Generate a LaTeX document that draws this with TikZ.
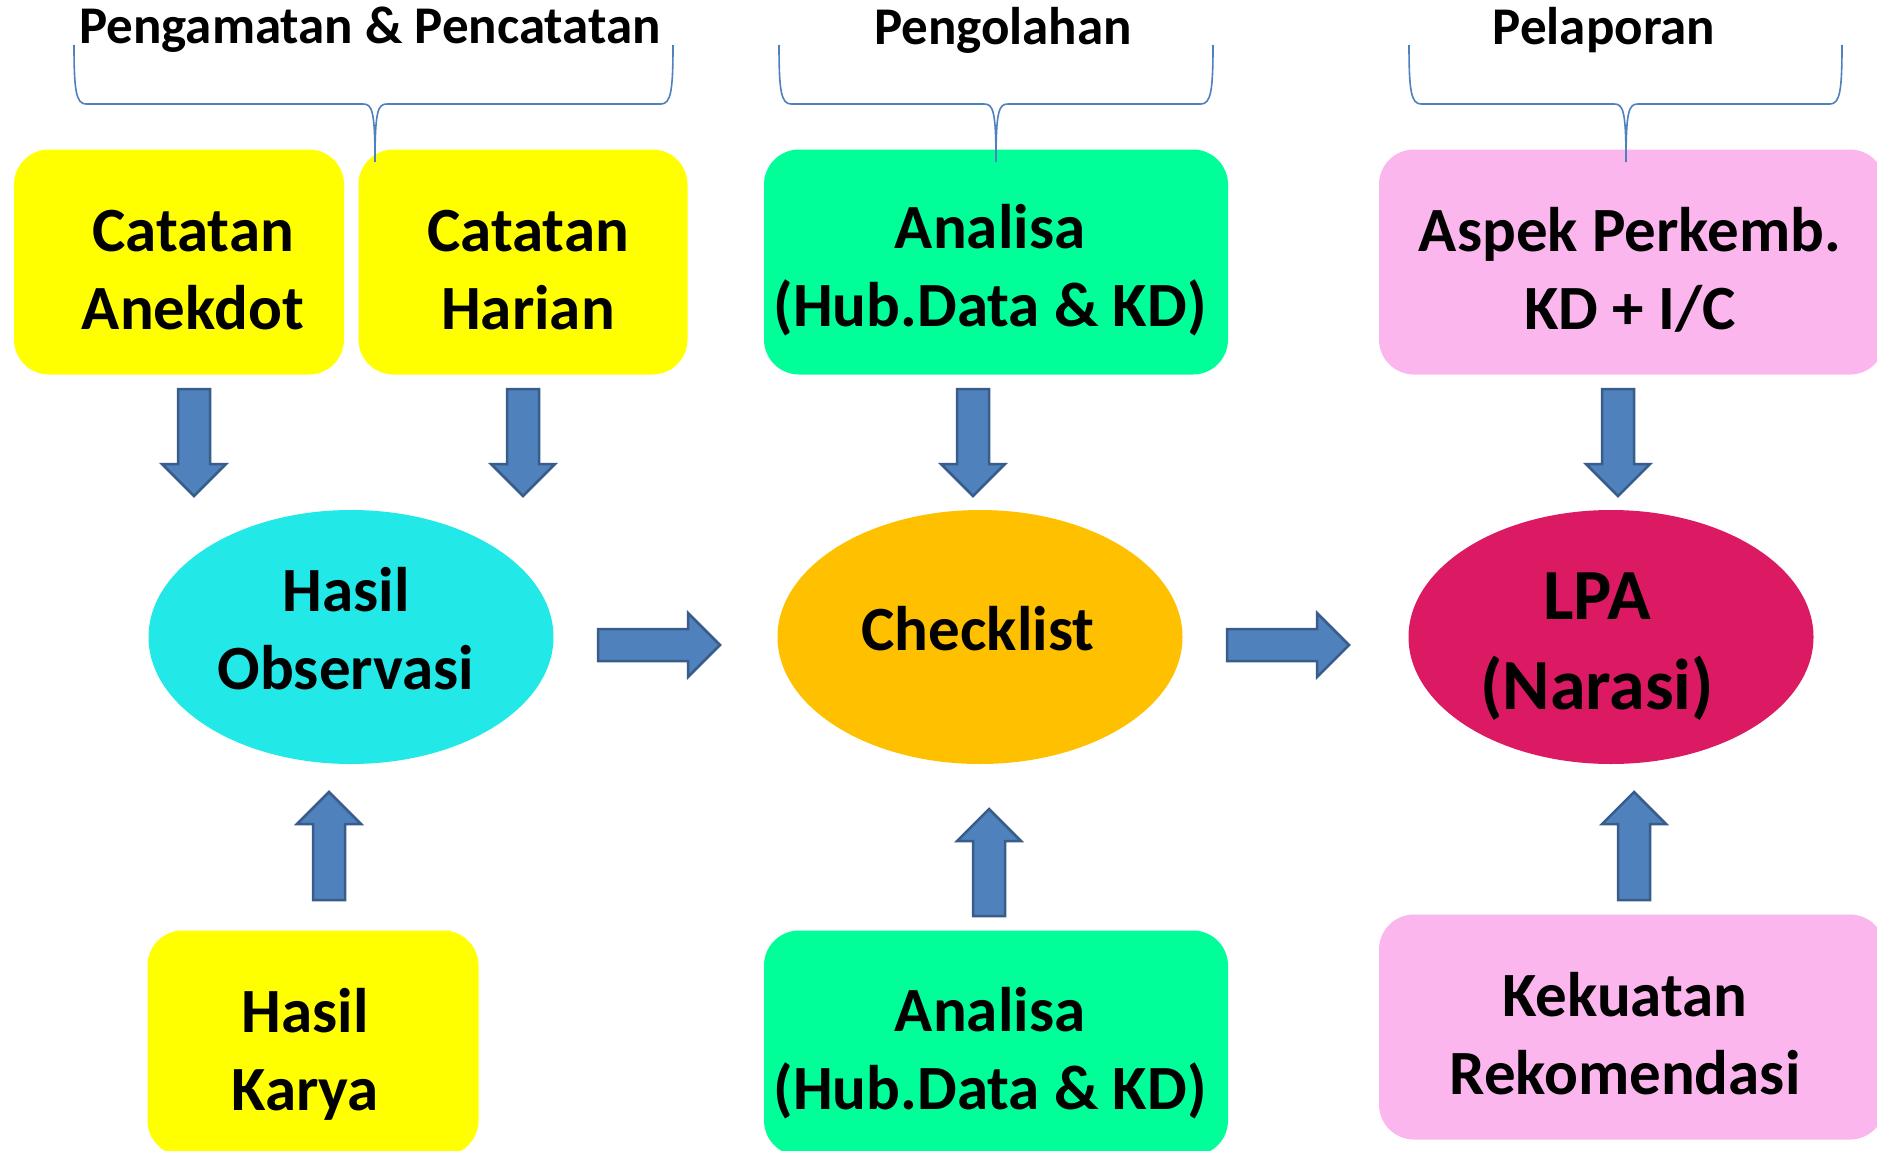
\documentclass[tikz,border=0pt]{standalone}
\usepackage{fontspec}
\setmainfont{Carlito}
\usetikzlibrary{shapes.geometric}
\definecolor{boxyellow}{HTML}{FFFF00}
\definecolor{boxgreen}{HTML}{00FF99}
\definecolor{boxpink}{HTML}{FCB6EE}
\definecolor{elcyan}{HTML}{22E8E8}
\definecolor{elorange}{HTML}{FFC000}
\definecolor{elcrimson}{HTML}{DC1A63}
\definecolor{arrowfill}{HTML}{4F81BD}
\definecolor{arrowline}{HTML}{385D8A}
\newcommand{\topbrace}[3]{% left, tip, right
  \draw[bracestyle] (#1,45) .. controls (#1,90) and (#1+2,104) .. (#1+12,104) -- (#2-12,104)
    .. controls (#2-3,104) and (#2,110) .. (#2,162)
    .. controls (#2,110) and (#2+3,104) .. (#2+12,104) -- (#3-12,104)
    .. controls (#3-2,104) and (#3,90) .. (#3,45);}
\tikzset{
  pics/blkarrow/.style={code={
    \draw[arrowbody] (0,-16) -- (#1-32,-16) -- (#1-32,-32) -- (#1,0)
      -- (#1-32,32) -- (#1-32,16) -- (0,16) -- cycle;
  }},
}
\begin{document}
\begin{tikzpicture}[x=1pt,y=-1pt,
  every node/.style = {align=center, font=\fontsize{63}{78}\selectfont\bfseries},
  boxnode/.style = {shape=rectangle, rounded corners=35, minimum height=225, inner sep=0},
  ellnode/.style = {shape=ellipse, minimum width=405, minimum height=254, inner sep=0},
  hdr/.style = {font=\fontsize{53}{60}\selectfont\bfseries},
  arrowbody/.style = {fill=arrowfill, draw=arrowline, line width=2.5, line join=miter},
  bracestyle/.style = {draw=arrowfill, line width=1.6}]
\clip (0,0) rectangle (1877,1151);
\fill[white] (0,0) rectangle (1877,1151);
% headers
\node[hdr] (hobs) at (370,30) {Pengamatan \& Pencatatan};
\node[hdr] (hproc) at (1003,30) {Pengolahan};
\node[hdr] (hrep) at (1604,30) {Pelaporan};
% top row
\node[boxnode, fill=boxyellow, minimum width=330,
  label={[name=anektx, xshift=14, yshift=-8]center:{Catatan\\Anekdot}}] (anek) at (179,262) {};
\node[boxnode, fill=boxyellow, minimum width=329,
  label={[name=hariantx, xshift=5, yshift=-8]center:{Catatan\\Harian}}] (harian) at (523,262) {};
\node[boxnode, fill=boxgreen, minimum width=464,
  label={[name=anatoptx, xshift=-6, yshift=-8]center:{Analisa\\(Hub.Data \& KD)}}] (anatop) at (996,262) {};
\node[boxnode, fill=boxpink, minimum width=506,
  label={[name=aspektx, xshift=-2, yshift=-8]center:{Aspek Perkemb.\\KD + I/C}}] (aspek) at (1632,262) {};
% braces over the groups
\topbrace{74}{375}{673}
\topbrace{779}{996}{1213}
\topbrace{1409}{1626}{1842}
% middle row
\node[ellnode, fill=elcyan,
  label={[name=obstx, xshift=-5, yshift=8]center:{Hasil\\Observasi}}] (obs) at (351,637) {};
\node[ellnode, fill=elorange,
  label={[name=checktx, xshift=-2, yshift=8]center:Checklist}] (check) at (980,637) {};
\node[ellnode, fill=elcrimson,
  label={[name=lpatx, xshift=-14, yshift=-10, font=\fontsize{72}{90}\selectfont\bfseries]center:{LPA\\(Narasi)}}] (lpa) at (1611,637) {};
% bottom row
\node[boxnode, fill=boxyellow, minimum width=331,
  label={[name=karyatx, xshift=-8, yshift=-11]center:{Hasil\\Karya}}] (karya) at (313,1043) {};
\node[boxnode, fill=boxgreen, minimum width=464,
  label={[name=anabottx, xshift=-6, yshift=-10]center:{Analisa\\(Hub.Data \& KD)}}] (anabot) at (996,1043) {};
\node[boxnode, fill=boxpink, minimum width=506,
  label={[name=kekuatantx, xshift=-7, yshift=-7]center:{Kekuatan\\Rekomendasi}}] (kekuatan) at (1632,1027) {};
% block arrows
\pic (aanek) at (194,389) [rotate=-90] {blkarrow=107};
\pic (aharian) at (523,389) [rotate=-90] {blkarrow=107};
\pic (aanatop) at (973,389) [rotate=-90] {blkarrow=107};
\pic (aaspek) at (1618,389) [rotate=-90] {blkarrow=107};
\pic (aobs) at (598,645) {blkarrow=122};
\pic (acheck) at (1227,645) {blkarrow=122};
\pic (akarya) at (329,900) [rotate=90] {blkarrow=108};
\pic (aanabot) at (989,916) [rotate=90] {blkarrow=107};
\pic (akekuatan) at (1634,900) [rotate=90] {blkarrow=108};
\end{tikzpicture}
\end{document}
